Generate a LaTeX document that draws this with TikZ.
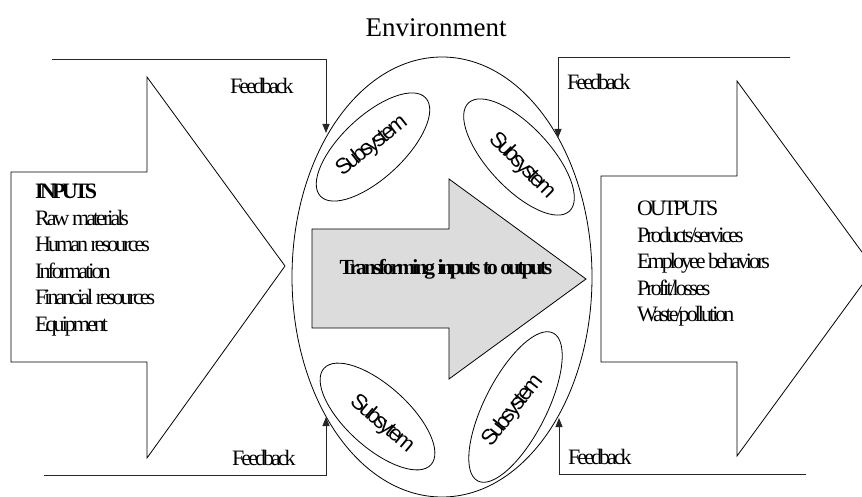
\documentclass[tikz,border=0pt]{standalone}
\usepackage{fontspec}
\setmainfont{Liberation Serif}
\newfontfamily\tightserif{Liberation Serif}[LetterSpace=-13.5]
\newfontfamily\tightbold{Liberation Serif}[LetterSpace=-17]
\newfontfamily\tightsans{Liberation Sans}[LetterSpace=-14]
\usetikzlibrary{arrows.meta,shapes.geometric}
\definecolor{procgray}{RGB}{220,220,220}
\tikzset{
  outline/.style={draw=black, line width=0.8pt, line join=miter},
  fbline/.style={draw=black!85, line width=0.8pt, -{Triangle[length=9pt,width=7pt]}},
  fblabel/.style={font=\tightserif\fontsize{22}{26}\selectfont, anchor=base west, inner sep=0},
  listtext/.style={font=\tightserif\fontsize{22}{26}\selectfont, anchor=base west, inner sep=0},
  subell/.style={draw, ellipse, line width=0.8pt, inner sep=0, minimum width=144pt, minimum height=62pt},
  subtext/.style={font=\tightsans\fontsize{22}{26}\selectfont, inner sep=0},
}
\begin{document}
\begin{tikzpicture}[x=1pt,y=-1pt]
\useasboundingbox (0,0) rectangle (862,497);
\clip (0,0) rectangle (862,497);

% title
\node[font=\fontsize{27}{31}\selectfont, anchor=base, inner sep=0] (env) at (436,37) {Environment};

% big input arrow
\draw[outline] (11,172) -- (147,172) -- (147,77) -- (285,266) -- (147,458) -- (147,362) -- (11,362) -- cycle;
% big output arrow
\draw[outline] (601,176) -- (737,176) -- (737,81) -- (874,268.5) -- (737,456) -- (737,362) -- (601,362) -- cycle;

% system ellipse
\node[draw, ellipse, line width=0.8pt, minimum width=300pt, minimum height=440pt, inner sep=0] (sys) at (442,277) {};

% transformation arrow
\draw[outline, fill=procgray] (312,229) -- (449,229) -- (449,179) -- (586,279) -- (449,379) -- (449,328) -- (312,328) -- cycle;
\node[font=\tightserif\bfseries\fontsize{21.5}{26}\selectfont, anchor=base, inner sep=0] (trans) at (446,274) {Transforming inputs to outputs};

% subsystems
\node[subell, rotate=43] (s1) at (373,147) {};
\node[subtext, rotate=38] (t1) at (372,146) {Subsystem};
\node[subell, rotate=-47, minimum width=148pt] (s2) at (519,157) {};
\node[subtext, rotate=-45] (t2) at (522,166) {Subsystem};
\node[subell, rotate=-42] (s3) at (377.5,416.5) {};
\node[subtext, rotate=-40] (t3) at (382,424) {Subsytem};
\node[subell, rotate=63, minimum width=166pt] (s4) at (515.5,407) {};
\node[subtext, rotate=52] (t4) at (513,411) {Subsystem};

% feedback connectors
\coordinate (f1s) at (52,59);   \coordinate (f1e) at (326,133);
\coordinate (f2s) at (790,57);  \coordinate (f2e) at (558,138);
\coordinate (f3s) at (44,475);  \coordinate (f3e) at (326,417);
\coordinate (f4s) at (806,474); \coordinate (f4e) at (559,418);
\draw[fbline] (f1s) -| (f1e);
\draw[fbline] (f2s) -| (f2e);
\draw[fbline] (f3s) -| (f3e);
\draw[fbline] (f4s) -| (f4e);
\node[fblabel] (l1) at (230,93.5) {Feedback};
\node[fblabel] (l2) at (567,90) {Feedback};
\node[fblabel] (l3) at (232,465) {Feedback};
\node[fblabel] (l4) at (568,464) {Feedback};

% inputs list
\node[listtext, font=\tightbold\bfseries\fontsize{22}{26}\selectfont] (in0) at (35,199) {INPUTS};
\node[listtext] (in1) at (35,225.4) {Raw materials};
\node[listtext] (in2) at (35,251.8) {Human resources};
\node[listtext] (in3) at (35,278.2) {Information};
\node[listtext] (in4) at (35,304.6) {Financial resources};
\node[listtext] (in5) at (35,331) {Equipment};

% outputs list
\node[listtext] (out0) at (637,216) {OUTPUTS};
\node[listtext] (out1) at (637,242.4) {Products/services};
\node[listtext] (out2) at (637,268.8) {Employee behaviors};
\node[listtext] (out3) at (637,295.2) {Profit/losses};
\node[listtext] (out4) at (637,321.6) {Waste/pollution};
\end{tikzpicture}
\end{document}
